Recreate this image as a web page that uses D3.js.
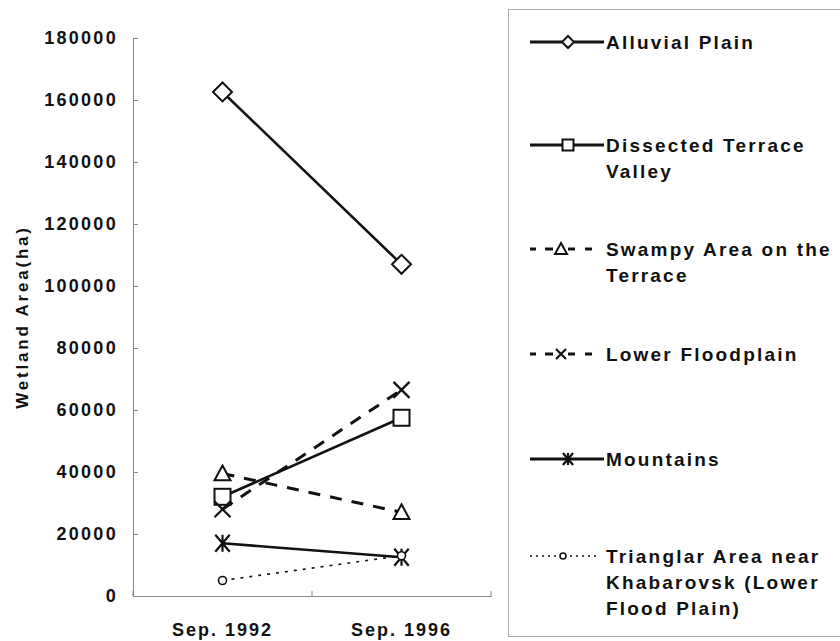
<!DOCTYPE html>
<html>
<head>
<meta charset="utf-8">
<script src="https://cdn.jsdelivr.net/npm/d3@7"></script>
<style>
  html, body { margin: 0; padding: 0; background: #fff; }
  svg { display: block; }
  text { font-family: "Liberation Sans", Arial, sans-serif; fill: #111; }
</style>
</head>
<body>
<svg id="chart" width="840" height="641"></svg>
<script>
// ---------- data ----------
const categories = ["Sep. 1992", "Sep. 1996"];
const seriesNames = [
  "Alluvial Plain",
  "Dissected Terrace Valley",
  "Swampy Area on the Terrace",
  "Lower Floodplain",
  "Mountains",
  "Trianglar Area near Khabarovsk (Lower Flood Plain)"
];
const legendLines = [
  ["Alluvial Plain"],
  ["Dissected Terrace", "Valley"],
  ["Swampy Area on the", "Terrace"],
  ["Lower Floodplain"],
  ["Mountains"],
  ["Trianglar Area near", "Khabarovsk (Lower", "Flood Plain)"]
];
const alluvialPlain   = [162600, 107000];
const dissectedValley = [32000, 57500];
const swampyTerrace   = [39500, 27000];
const lowerFloodplain = [28000, 66500];
const mountains       = [17000, 12500];
const triangularArea  = [5000, 13000];
const yTicks = [0, 20000, 40000, 60000, 80000, 100000, 120000, 140000, 160000, 180000];
const yTitle = "Wetland Area(ha)";

const seriesValues = [alluvialPlain, dissectedValley, swampyTerrace, lowerFloodplain, mountains, triangularArea];
const styles = [
  { marker: "diamond",  dash: null,     width: 2.6, legend: "solid" },
  { marker: "square",   dash: null,     width: 2.6, legend: "solid" },
  { marker: "triangle", dash: "12,10",  width: 3,   legend: "dashed" },
  { marker: "cross",    dash: "12,10",  width: 3,   legend: "dashed" },
  { marker: "asterisk", dash: null,     width: 2.6, legend: "solid" },
  { marker: "circle",   dash: "3,6",    width: 1.6, legend: "dotted" }
];

// ---------- layout ----------
const svg = d3.select("#chart");
const plot = { left: 133, right: 491, top: 38, bottom: 596 };

const x = d3.scaleBand().domain(categories).range([plot.left, plot.right]);
const y = d3.scaleLinear().domain([0, 180000]).range([plot.bottom, plot.top]);

// y axis
const yAxis = d3.axisLeft(y).tickValues(yTicks).tickFormat(d3.format("d"))
  .tickSizeInner(-5).tickSizeOuter(0).tickPadding(15);
const gy = svg.append("g").attr("transform", `translate(${plot.left},0)`).call(yAxis);
gy.select(".domain").attr("stroke", "#888").attr("stroke-width", 1);
gy.selectAll(".tick line").attr("stroke", "#888");
gy.selectAll(".tick text")
  .style("font-family", "'Liberation Sans', Arial, sans-serif")
  .style("font-weight", "bold").style("font-size", "18px")
  .style("letter-spacing", "2.3px").attr("fill", "#111");

// x axis
const xAxis = d3.axisBottom(x).tickSize(0).tickPadding(27);
const gx = svg.append("g").attr("transform", `translate(0,${plot.bottom})`).call(xAxis);
gx.select(".domain").attr("stroke", "#888").attr("stroke-width", 1);
gx.selectAll(".tick text")
  .style("font-family", "'Liberation Sans', Arial, sans-serif")
  .style("font-weight", "bold").style("font-size", "18px")
  .style("letter-spacing", "2px").attr("fill", "#111");
// category boundary ticks
const bounds = d3.range(categories.length + 1).map(i => x.range()[0] + i * x.step());
gx.selectAll(".bound").data(bounds).enter().append("line")
  .attr("x1", d => d).attr("x2", d => d).attr("y1", 0).attr("y2", -5)
  .attr("stroke", "#888");

// y title
svg.append("text")
  .attr("transform", `translate(28,${(plot.top + plot.bottom) / 2}) rotate(-90)`)
  .attr("text-anchor", "middle")
  .style("font-weight", "bold").style("font-size", "17px").style("letter-spacing", "2.8px")
  .text(yTitle);

// ---------- markers ----------
function drawMarker(g, type, cx, cy, s) {
  const h = s / 2;
  if (type === "diamond") {
    g.append("path").attr("d", `M${cx},${cy - h}L${cx + h},${cy}L${cx},${cy + h}L${cx - h},${cy}Z`)
      .attr("fill", "#fff").attr("stroke", "#111").attr("stroke-width", 2);
  } else if (type === "square") {
    g.append("rect").attr("x", cx - h).attr("y", cy - h).attr("width", s).attr("height", s)
      .attr("fill", "#fff").attr("stroke", "#111").attr("stroke-width", 2);
  } else if (type === "triangle") {
    g.append("path").attr("d", `M${cx},${cy - h}L${cx + h},${cy + h * 0.85}L${cx - h},${cy + h * 0.85}Z`)
      .attr("fill", "#fff").attr("stroke", "#111").attr("stroke-width", 2);
  } else if (type === "cross") {
    g.append("path").attr("d", `M${cx - h},${cy - h}L${cx + h},${cy + h}M${cx + h},${cy - h}L${cx - h},${cy + h}`)
      .attr("stroke", "#111").attr("stroke-width", 2.2).attr("fill", "none");
  } else if (type === "asterisk") {
    const hx = h * 0.85;
    g.append("path").attr("d", `M${cx - hx},${cy - h}L${cx + hx},${cy + h}M${cx + hx},${cy - h}L${cx - hx},${cy + h}M${cx},${cy - h}L${cx},${cy + h}`)
      .attr("stroke", "#111").attr("stroke-width", 2.2).attr("fill", "none");
  } else if (type === "circle") {
    g.append("circle").attr("cx", cx).attr("cy", cy).attr("r", s / 2)
      .attr("fill", "#fff").attr("stroke", "#111").attr("stroke-width", 1.6);
  }
}

const plotSizes = { diamond: 19, square: 16, triangle: 16, cross: 16, asterisk: 17, circle: 8 };
const legendSizes = { diamond: 12, square: 11, triangle: 12, cross: 10, asterisk: 12, circle: 6 };

// ---------- series ----------
const line = d3.line().x((d, i) => x(categories[i]) + x.bandwidth() / 2).y(d => y(d));
const gLines = svg.append("g");
const gMarks = svg.append("g");
seriesValues.forEach((vals, si) => {
  const st = styles[si];
  gLines.append("path").datum(vals).attr("d", line)
    .attr("fill", "none").attr("stroke", "#111").attr("stroke-width", st.width)
    .attr("stroke-dasharray", st.dash);
});
seriesValues.forEach((vals, si) => {
  const st = styles[si];
  vals.forEach((v, i) => {
    drawMarker(gMarks, st.marker, x(categories[i]) + x.bandwidth() / 2, y(v), plotSizes[st.marker]);
  });
});

// ---------- legend ----------
const legend = svg.append("g");
legend.append("rect").attr("x", 508.5).attr("y", 9.5).attr("width", 340).attr("height", 627)
  .attr("fill", "none").attr("stroke", "#aaa").attr("stroke-width", 1);

const legendY = [42, 145, 249, 354, 459, 556];
seriesNames.forEach((name, si) => {
  const st = styles[si];
  const ly = legendY[si];
  const g = legend.append("g");
  let mx = 568;
  if (st.legend === "dotted") {
    mx = 563;
    [[530, 556], [570, 600]].forEach(seg => {
      g.append("line").attr("x1", seg[0]).attr("x2", seg[1]).attr("y1", ly).attr("y2", ly)
        .attr("stroke", "#111").attr("stroke-width", 1.4).attr("stroke-dasharray", "2,4");
    });
  } else if (st.legend === "dashed") {
    mx = 561;
    [[530, 536], [545, 553], [568, 575], [585, 592]].forEach(seg => {
      g.append("line").attr("x1", seg[0]).attr("x2", seg[1]).attr("y1", ly).attr("y2", ly)
        .attr("stroke", "#111").attr("stroke-width", 3);
    });
  } else {
    g.append("line").attr("x1", 530).attr("x2", 604).attr("y1", ly).attr("y2", ly)
      .attr("stroke", "#111").attr("stroke-width", 3);
  }
  drawMarker(g, st.marker, mx, ly, legendSizes[st.marker]);
  const t = g.append("text").attr("x", 606).attr("y", ly + 7)
    .style("font-weight", "bold").style("font-size", "19px").style("letter-spacing", "2.2px");
  legendLines[si].forEach((ln, k) => {
    t.append("tspan").attr("x", 606).attr("dy", k === 0 ? 0 : 26).text(ln);
  });
});
</script>
</body>
</html>
